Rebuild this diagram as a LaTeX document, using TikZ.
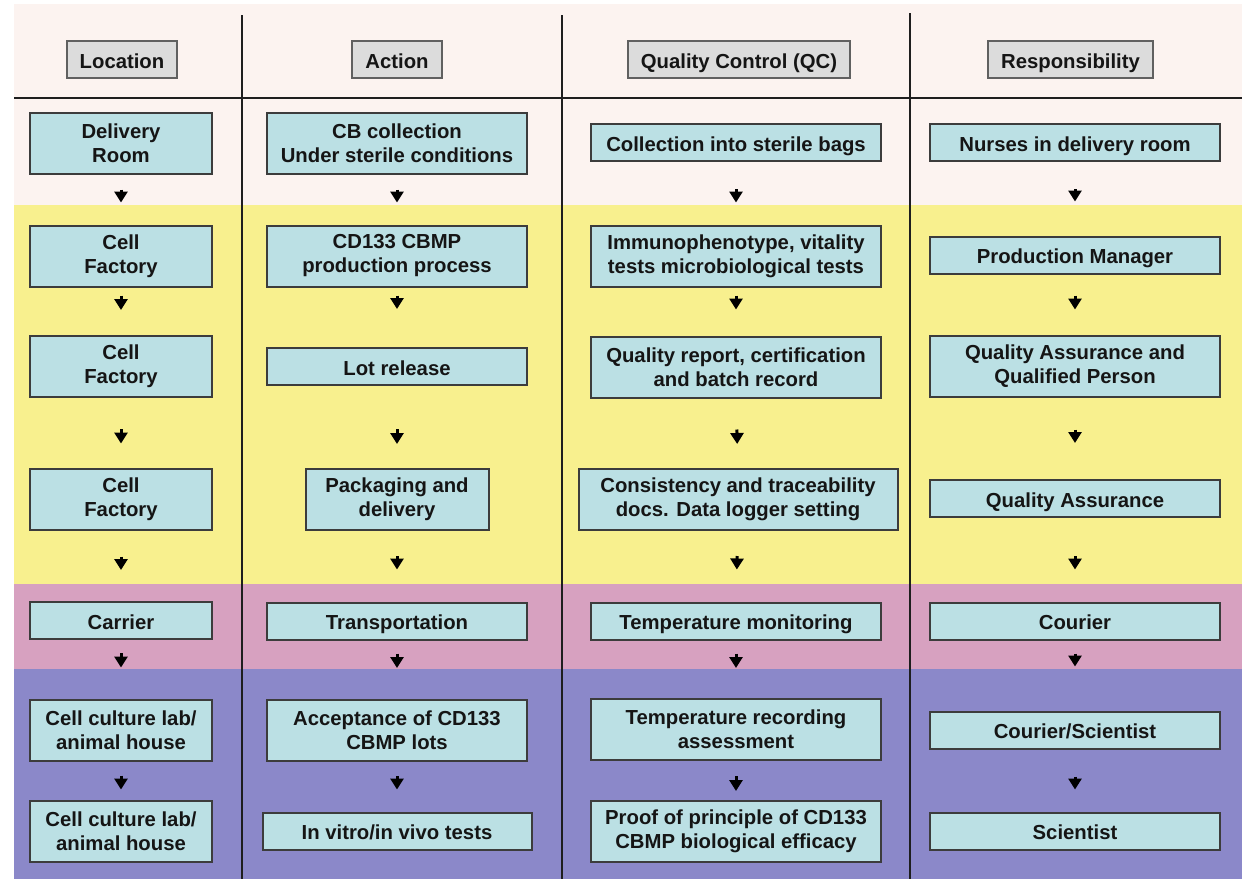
\documentclass[tikz,border=0pt]{standalone}
\usepackage{fontspec}
\setmainfont{Liberation Sans}
\usepackage{xcolor}
\usepackage{tikz}
\usetikzlibrary{arrows.meta}

\definecolor{panelpink}{HTML}{FCF3F0}
\definecolor{bandyellow}{HTML}{F8F08E}
\definecolor{bandpink}{HTML}{D7A1C0}
\definecolor{bandviolet}{HTML}{8B88C9}
\definecolor{boxfill}{HTML}{BBE0E4}
\definecolor{boxline}{HTML}{3C3C3C}
\definecolor{headfill}{HTML}{DCDCDC}
\definecolor{headline}{HTML}{606060}
\definecolor{rulecol}{HTML}{1E1E1E}
\definecolor{textcol}{HTML}{151515}

\begin{document}
\begin{tikzpicture}
  [
    x=1pt,y=-1pt,
    every node/.style={font=\bfseries\fontsize{20.3}{24}\selectfont,text=textcol},
    stage/.style={rectangle,draw=boxline,fill=boxfill,line width=2pt,inner sep=0pt,minimum height=61pt,align=center},
    oneline/.style={minimum height=37pt,text height=17.5pt,text depth=0pt},
    locbox/.style={stage,minimum width=182pt},
    actbox/.style={stage,minimum width=260pt},
    qcbox/.style={stage,minimum width=290pt},
    rspbox/.style={stage,minimum width=290pt},
    colhead/.style={rectangle,draw=headline,fill=headfill,line width=2pt,inner xsep=13pt,inner ysep=0pt,minimum height=37pt,text height=17pt,text depth=0pt},
    flow/.style={line width=3pt,draw=black,-{Triangle[width=13pt,length=11pt]}},
    rule/.style={line width=2.5pt,draw=rulecol}
  ]
  % bands
  \useasboundingbox (0,0) rectangle (1242,879);
  \fill[white] (0,0) rectangle (1242,879);
  \fill[panelpink] (14,4) rectangle (1242,205);
  \fill[bandyellow] (14,205) rectangle (1242,584);
  \fill[bandpink] (14,584) rectangle (1242,669);
  \fill[bandviolet] (14,669) rectangle (1242,879);
  \draw[rule] (14,98) -- (1242,98);
  \draw[rule] (242,15) -- (242,879);
  \draw[rule] (562,15) -- (562,879);
  \draw[rule] (910,13) -- (910,879);

  % column headings
  \node[colhead] (hloc) at (122,59.5) {Location};
  \node[colhead] (hact) at (397,59.5) {Action};
  \node[colhead] (hqc) at (739,59.5) {Quality Control (QC)};
  \node[colhead] (hrsp) at (1070.5,59.5) {Responsibility};

  % location
  \node[locbox] (loc1) at (121,143) {Delivery\\Room};
  \node[locbox] (loc2) at (121,256) {Cell\\Factory};
  \node[locbox] (loc3) at (121,366.5) {Cell\\Factory};
  \node[locbox] (loc4) at (121,499) {Cell\\Factory};
  \node[locbox,oneline] (loc5) at (121,620.5) {Carrier};
  \node[locbox] (loc6) at (121,730) {Cell culture lab/\\animal house};
  \node[locbox] (loc7) at (121,831) {Cell culture lab/\\animal house};

  % action
  \node[actbox] (act1) at (397,143) {CB collection\\Under sterile conditions};
  \node[actbox] (act2) at (397,256) {CD133 CBMP\\production process};
  \node[actbox,oneline] (act3) at (397,366.5) {Lot release};
  \node[actbox,minimum width=183pt] (act4) at (397,499.5) {Packaging and\\delivery};
  \node[actbox,oneline] (act5) at (397,621) {Transportation};
  \node[actbox] (act6) at (397,730.5) {Acceptance of CD133\\CBMP lots};
  \node[actbox,oneline,minimum width=269pt] (act7) at (397,831) {In vitro/in vivo tests};

  % quality control
  \node[qcbox,oneline] (qc1) at (736,142.5) {Collection into sterile bags};
  \node[qcbox] (qc2) at (736,256) {Immunophenotype, vitality\\tests microbiological tests};
  \node[qcbox] (qc3) at (736,367) {Quality report, certification\\and batch record};
  \node[qcbox,minimum width=319pt] (qc4) at (738,499.5) {Consistency and traceability\\docs. Data logger setting};
  \node[qcbox,oneline] (qc5) at (736,621) {Temperature monitoring};
  \node[qcbox] (qc6) at (736,729.5) {Temperature recording\\assessment};
  \node[qcbox] (qc7) at (736,831.5) {Proof of principle of CD133\\CBMP biological efficacy};

  % responsibility
  \node[rspbox,oneline] (rsp1) at (1075,142.5) {Nurses in delivery room};
  \node[rspbox,oneline] (rsp2) at (1075,255) {Production Manager};
  \node[rspbox] (rsp3) at (1075,366) {Quality Assurance and\\Qualified Person};
  \node[rspbox,oneline] (rsp4) at (1075,498.5) {Quality Assurance};
  \node[rspbox,oneline] (rsp5) at (1075,621) {Courier};
  \node[rspbox,oneline] (rsp6) at (1075,730) {Courier/Scientist};
  \node[rspbox,oneline] (rsp7) at (1075,831) {Scientist};

  % arrows
  \draw[flow,shorten <=15pt,shorten >=22pt] (loc1) -- (loc2);
  \draw[flow,shorten <=8pt,shorten >=25pt] (loc2) -- (loc3);
  \draw[flow,shorten <=31pt,shorten >=24pt] (loc3) -- (loc4);
  \draw[flow,shorten <=26pt,shorten >=31pt] (loc4) -- (loc5);
  \draw[flow,shorten <=13pt,shorten >=31pt] (loc5) -- (loc6);
  \draw[flow,shorten <=14pt,shorten >=10pt] (loc6) -- (loc7);

  \draw[flow,shorten <=15pt,shorten >=22pt] (act1) -- (act2);
  \draw[flow,shorten <=8pt,shorten >=38pt] (act2) -- (act3);
  \draw[flow,shorten <=43pt,shorten >=24pt] (act3) -- (act4);
  \draw[flow,shorten <=25pt,shorten >=32pt] (act4) -- (act5);
  \draw[flow,shorten <=13pt,shorten >=31pt] (act5) -- (act6);
  \draw[flow,shorten <=14pt,shorten >=22pt] (act6) -- (act7);

  \draw[flow,shorten <=27pt,shorten >=22pt] (qc1) -- (qc2);
  \draw[flow,shorten <=8pt,shorten >=26pt] (qc2) -- (qc3);
  \draw[flow,shorten <=31pt,shorten >=24pt] (qc3) -- (qc4);
  \draw[flow,shorten <=25pt,shorten >=32pt] (qc4) -- (qc5);
  \draw[flow,shorten <=13pt,shorten >=30pt] (qc5) -- (qc6);
  \draw[flow,shorten <=15pt,shorten >=9pt] (qc6) -- (qc7);

  \draw[flow,shorten <=27pt,shorten >=34pt] (rsp1) -- (rsp2);
  \draw[flow,shorten <=21pt,shorten >=25pt] (rsp2) -- (rsp3);
  \draw[flow,shorten <=32pt,shorten >=36pt] (rsp3) -- (rsp4);
  \draw[flow,shorten <=38pt,shorten >=32pt] (rsp4) -- (rsp5);
  \draw[flow,shorten <=13pt,shorten >=44pt] (rsp5) -- (rsp6);
  \draw[flow,shorten <=27pt,shorten >=22pt] (rsp6) -- (rsp7);
\end{tikzpicture}
\end{document}
